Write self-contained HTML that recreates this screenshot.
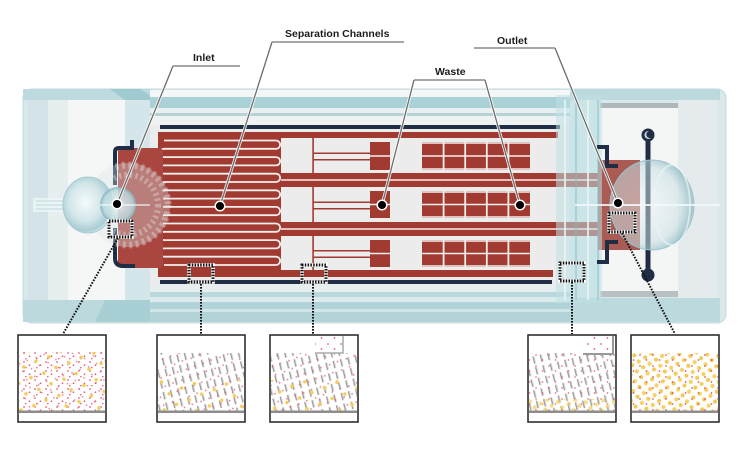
<!DOCTYPE html>
<html><head><meta charset="utf-8">
<style>
html,body{margin:0;padding:0;background:#fff;}
svg{display:block}
.lb{font-family:"Liberation Sans",Arial,sans-serif;font-weight:bold;font-size:10.5px;fill:#1c1c1c}
</style></head><body>
<svg width="750" height="451" viewBox="0 0 750 451" xmlns="http://www.w3.org/2000/svg">
<defs>
 <radialGradient id="sphL" cx="0.45" cy="0.45" r="0.6">
  <stop offset="0" stop-color="#f4fafb"/><stop offset="0.55" stop-color="#d3e6ea"/><stop offset="0.85" stop-color="#a9cdd3"/><stop offset="1" stop-color="#e8f3f4"/>
 </radialGradient>
 <radialGradient id="sphR" cx="0.42" cy="0.5" r="0.6">
  <stop offset="0" stop-color="#eef6f7" stop-opacity="0.45"/><stop offset="0.7" stop-color="#c7dfe3" stop-opacity="0.55"/><stop offset="0.93" stop-color="#8fbcc4" stop-opacity="0.8"/><stop offset="1" stop-color="#e5f1f2" stop-opacity="0.9"/>
 </radialGradient>
 <radialGradient id="sphS" cx="0.5" cy="0.5" r="0.5">
  <stop offset="0" stop-color="#e9f4f6" stop-opacity="0.85"/><stop offset="0.8" stop-color="#bcdadf" stop-opacity="0.8"/><stop offset="1" stop-color="#7fb2ba" stop-opacity="0.9"/>
 </radialGradient>
 <pattern id="rA" width="11" height="9" patternUnits="userSpaceOnUse"><circle cx="2" cy="2" r="0.85" fill="#e5506a"/><circle cx="7.5" cy="5.2" r="0.85" fill="#e5506a"/><circle cx="3.8" cy="7.6" r="0.75" fill="#e5506a"/></pattern>
 <pattern id="rS" width="13" height="11" patternUnits="userSpaceOnUse"><circle cx="3" cy="3" r="0.85" fill="#e5506a"/><circle cx="9.5" cy="8" r="0.85" fill="#e5506a"/></pattern>
 <pattern id="rB" width="13" height="12" patternUnits="userSpaceOnUse" patternTransform="rotate(23)"><circle cx="4" cy="3" r="0.85" fill="#e5506a"/><circle cx="10" cy="9" r="0.85" fill="#e5506a"/></pattern>
 <pattern id="yA" width="21" height="17" patternUnits="userSpaceOnUse" patternTransform="rotate(17)"><circle cx="4" cy="4" r="1.8" fill="#f3cf5a"/><circle cx="14" cy="12" r="1.8" fill="#f3cf5a"/></pattern>
 <pattern id="yB" width="11" height="10" patternUnits="userSpaceOnUse" patternTransform="rotate(11)"><circle cx="3" cy="3" r="2.1" fill="#f5d262"/><circle cx="8.5" cy="7.8" r="2.1" fill="#f2ca55"/></pattern>
 <pattern id="pil" width="7.5" height="11" patternUnits="userSpaceOnUse" patternTransform="rotate(-14)"><rect x="2.8" y="1.8" width="1.1" height="7.5" fill="#8a8a8a"/><rect x="3.9" y="1.8" width="0.9" height="7.5" fill="#d6d6d6"/></pattern>
</defs>

<!-- body -->
<rect x="23" y="89" width="703" height="234" rx="9" fill="#d8e8eb" stroke="#c5d9dc"/>

<!-- left cap -->
<rect x="23" y="89" width="130" height="11" fill="#bddbdf"/>
<polygon points="110,89 140,89 158,100 125,100" fill="#9fcad0"/>
<rect x="28" y="100" width="20" height="200" fill="#d3e3e7"/>
<rect x="48" y="100" width="20" height="200" fill="#e6eef0"/>
<rect x="68" y="100" width="57" height="200" fill="#f5f6f6"/>
<rect x="125" y="100" width="28" height="200" fill="#d4e6e9"/>
<rect x="23" y="300" width="130" height="22" fill="#bcd9dd"/>
<polygon points="105,300 150,300 160,322 95,322" fill="#a7cfd4"/>

<!-- main body strips -->
<rect x="150" y="90" width="420" height="7" fill="#f3f7f8"/>
<rect x="150" y="97" width="420" height="11" fill="#a9d1d6"/>
<rect x="150" y="108" width="420" height="5" fill="#e6f0f1"/>
<rect x="150" y="113" width="420" height="3" fill="#b7d1d5"/>
<rect x="150" y="116" width="420" height="9" fill="#eef2f3"/>
<rect x="150" y="125" width="420" height="160" fill="#ececec"/>
<rect x="150" y="285" width="420" height="7" fill="#e7eef0"/>
<rect x="150" y="292" width="420" height="5" fill="#b9d8dc"/>
<rect x="150" y="297" width="420" height="5" fill="#dcecee"/>
<rect x="150" y="302" width="420" height="20" fill="#b2d4d9"/>
<rect x="150" y="309" width="420" height="3" fill="#cfe5e8"/>

<!-- right cap -->
<rect x="570" y="89" width="150" height="11" fill="#bcdadd"/>
<rect x="600" y="103" width="78" height="5" fill="#aeb8bb"/>
<rect x="600" y="108" width="78" height="183" fill="#f4f5f5"/>
<rect x="678" y="100" width="40" height="198" fill="#e5eaec"/>
<rect x="600" y="291" width="78" height="6" fill="#b8c0c2"/>
<rect x="570" y="298" width="150" height="24" fill="#bcd9dd"/>

<!-- navy chip border -->
<rect x="160" y="125" width="400" height="4" fill="#1f2d45"/>
<rect x="160" y="280" width="392" height="4" fill="#1f2d45"/>

<!-- red bands -->
<g fill="#a13a31">
 <rect x="158" y="132" width="400" height="6"/>
 <rect x="158" y="173" width="440" height="14"/>
 <rect x="158" y="222" width="440" height="14"/>
 <rect x="158" y="270" width="395" height="7"/>
 <rect x="158" y="132" width="123" height="145" rx="5"/>
</g>
<path d="M164 140.5H276A4.15 4.15 0 0 1 276 148.8H164A4.15 4.15 0 0 0 164 157.1H276A4.15 4.15 0 0 1 276 165.4H164A4.15 4.15 0 0 0 164 173.7H276A4.15 4.15 0 0 1 276 182H164A4.15 4.15 0 0 0 164 190.3H276A4.15 4.15 0 0 1 276 198.6H164A4.15 4.15 0 0 0 164 206.9H276A4.15 4.15 0 0 1 276 215.2H164A4.15 4.15 0 0 0 164 223.5H276A4.15 4.15 0 0 1 276 231.8H164A4.15 4.15 0 0 0 164 240.1H276A4.15 4.15 0 0 1 276 248.4H164A4.15 4.15 0 0 0 164 256.7H276A4.15 4.15 0 0 1 276 265H164" fill="none" stroke="#f4eeec" stroke-width="1.8"/>
<g stroke="#f4eeec" stroke-width="1.6">
 <line x1="281" y1="180" x2="598" y2="180"/>
 <line x1="281" y1="229" x2="598" y2="229"/>
</g>

<!-- groups -->
<g>
 <g fill="#a13a31">
  <rect x="312.3" y="138" width="1.6" height="35"/>
  <rect x="313" y="152.5" width="57" height="1.5"/>
  <rect x="313" y="159" width="57" height="1.5"/>
  <rect x="370" y="142" width="20" height="28"/>
  <rect x="422" y="142" width="108" height="28"/>
  <rect x="312.3" y="187" width="1.6" height="35"/>
  <rect x="313" y="201.5" width="57" height="1.5"/>
  <rect x="313" y="208" width="57" height="1.5"/>
  <rect x="370" y="191" width="20" height="27"/>
  <rect x="422" y="191" width="108" height="27"/>
  <rect x="312.3" y="236" width="1.6" height="34"/>
  <rect x="313" y="250" width="57" height="1.5"/>
  <rect x="313" y="256.5" width="57" height="1.5"/>
  <rect x="370" y="240" width="20" height="27"/>
  <rect x="422" y="240" width="108" height="27"/>
 </g>
 <g stroke="#f4eeec" stroke-width="1.5">
  <line x1="370" y1="156" x2="390" y2="156"/>
  <line x1="370" y1="204.5" x2="390" y2="204.5"/>
  <line x1="370" y1="253.5" x2="390" y2="253.5"/>
  <line x1="422" y1="143" x2="530" y2="143"/><line x1="422" y1="156" x2="530" y2="156"/><line x1="422" y1="169" x2="530" y2="169"/>
  <line x1="422" y1="192" x2="530" y2="192"/><line x1="422" y1="204.5" x2="530" y2="204.5"/><line x1="422" y1="217" x2="530" y2="217"/>
  <line x1="422" y1="241" x2="530" y2="241"/><line x1="422" y1="253.5" x2="530" y2="253.5"/><line x1="422" y1="266" x2="530" y2="266"/>
 </g>
 <g stroke="#f4eeec" stroke-width="1.8">
  <line x1="443.6" y1="142" x2="443.6" y2="170"/><line x1="465.2" y1="142" x2="465.2" y2="170"/><line x1="486.8" y1="142" x2="486.8" y2="170"/><line x1="508.4" y1="142" x2="508.4" y2="170"/>
  <line x1="443.6" y1="191" x2="443.6" y2="218"/><line x1="465.2" y1="191" x2="465.2" y2="218"/><line x1="486.8" y1="191" x2="486.8" y2="218"/><line x1="508.4" y1="191" x2="508.4" y2="218"/>
  <line x1="443.6" y1="240" x2="443.6" y2="267"/><line x1="465.2" y1="240" x2="465.2" y2="267"/><line x1="486.8" y1="240" x2="486.8" y2="267"/><line x1="508.4" y1="240" x2="508.4" y2="267"/>
 </g>
</g>

<!-- right glass transition -->
<rect x="598" y="160" width="42" height="90" fill="#9b3f37" opacity="0.85"/>
<rect x="556" y="95" width="46" height="208" fill="#bfe0e3" opacity="0.55"/>
<g stroke="#e8f6f7" stroke-width="2" opacity="0.8">
 <line x1="565" y1="100" x2="565" y2="300"/><line x1="588" y1="100" x2="588" y2="300"/>
</g>
<g stroke="#7fb8c0" stroke-width="1.2" opacity="0.7">
 <line x1="576" y1="100" x2="576" y2="300"/><line x1="598" y1="100" x2="598" y2="300"/>
</g>
<path d="M597 147H607V166H618 M618 242H607V262H597" fill="none" stroke="#1f2d45" stroke-width="4"/>
<line x1="648" y1="135" x2="648" y2="275" stroke="#1f2d45" stroke-width="5"/>
<circle cx="648" cy="135" r="6.5" fill="#1f2d45"/>
<circle cx="648" cy="275" r="6.5" fill="#1f2d45"/>
<path d="M649 131a4 4 0 1 0 2 7a3 3 0 1 1 -2 -7z" fill="#c8d6dc"/>
<ellipse cx="652" cy="205" rx="42" ry="45" fill="url(#sphR)" stroke="#9cc4ca" stroke-width="1"/>
<ellipse cx="672" cy="205" rx="18" ry="40" fill="none" stroke="#e9f4f5" stroke-width="2" opacity="0.7"/>
<line x1="575" y1="205" x2="720" y2="205" stroke="#f2fafb" stroke-width="2" opacity="0.85"/>

<!-- left inlet -->
<rect x="118" y="148" width="45" height="120" rx="4" fill="#a8463f"/>
<path d="M132 140V148H119Q115 148 115 152V185 M115 228V258Q115 266 123 266H135" fill="none" stroke="#1f2d45" stroke-width="4"/>
<circle cx="128" cy="205" r="42" fill="#d9e6e8" opacity="0.35"/>
<circle cx="128" cy="205" r="40" fill="none" stroke="#eef2f2" stroke-width="7" stroke-dasharray="3 3.5" opacity="0.35"/>
<circle cx="128" cy="205" r="30" fill="none" stroke="#eef2f2" stroke-width="6" stroke-dasharray="2.5 3" opacity="0.35"/>
<rect x="33" y="198" width="40" height="14" fill="#eef6f7" opacity="0.8"/>
<g stroke="#bcd7dc" stroke-width="1"><line x1="36" y1="201" x2="70" y2="201"/><line x1="36" y1="205" x2="70" y2="205"/><line x1="36" y1="209" x2="70" y2="209"/></g>
<ellipse cx="88" cy="205" rx="25" ry="28" fill="url(#sphL)" stroke="#a8cbd1" stroke-width="1"/>
<circle cx="118" cy="205" r="18" fill="url(#sphS)"/>
<line x1="100" y1="205" x2="150" y2="205" stroke="#f4fafb" stroke-width="1.5" opacity="0.8"/>

<!-- small dotted boxes -->
<g fill="none">
 <g stroke="#ffffff" stroke-width="3.6">
  <rect x="109" y="221" width="23" height="16"/>
  <rect x="189" y="265" width="24" height="17"/>
  <rect x="302" y="265" width="24" height="17"/>
  <rect x="560" y="263" width="24" height="18"/>
  <rect x="609" y="213" width="26" height="19"/>
 </g>
 <g stroke="#111" stroke-width="3" stroke-dasharray="1.5 1.3">
  <rect x="109" y="221" width="23" height="16"/>
  <rect x="189" y="265" width="24" height="17"/>
  <rect x="302" y="265" width="24" height="17"/>
  <rect x="560" y="263" width="24" height="18"/>
  <rect x="609" y="213" width="26" height="19"/>
 </g>
 <g stroke="#111" stroke-width="2" stroke-dasharray="1.6 1.4">
  <line x1="118" y1="238" x2="63" y2="334"/>
  <line x1="201" y1="284" x2="201" y2="334"/>
  <line x1="313" y1="284" x2="313" y2="334"/>
  <line x1="572" y1="282" x2="572" y2="334"/>
  <line x1="622" y1="233" x2="675" y2="334"/>
 </g>
</g>

<!-- leaders -->
<g stroke="#ffffff" stroke-width="3" fill="none" opacity="0.9">
 <line x1="173" y1="66" x2="117" y2="204"/>
 <line x1="272" y1="42" x2="220" y2="206"/>
 <line x1="414" y1="80" x2="382" y2="205"/>
 <line x1="485" y1="80" x2="520" y2="205"/>
 <line x1="555" y1="48" x2="618" y2="203"/>
</g>
<g stroke="#6b6b6b" stroke-width="1.3" fill="none">
 <line x1="173" y1="66" x2="117" y2="204"/>
 <line x1="272" y1="42" x2="220" y2="206"/>
 <line x1="414" y1="80" x2="382" y2="205"/>
 <line x1="485" y1="80" x2="520" y2="205"/>
 <line x1="555" y1="48" x2="618" y2="203"/>
</g>
<g stroke="#8a8a8a" stroke-width="1.5">
 <line x1="173" y1="66" x2="240" y2="66"/>
 <line x1="272" y1="42" x2="404" y2="42"/>
 <line x1="414" y1="80" x2="485" y2="80"/>
 <line x1="474" y1="48" x2="555" y2="48"/>
</g>
<g fill="#000" stroke="#fff" stroke-width="1.5">
 <circle cx="117" cy="204" r="4.8"/>
 <circle cx="220" cy="206" r="4.8"/>
 <circle cx="382" cy="205" r="4.8"/>
 <circle cx="520" cy="205" r="4.8"/>
 <circle cx="618" cy="203" r="4.8"/>
</g>

<!-- labels -->
<text class="lb" x="193" y="61">Inlet</text>
<text class="lb" x="285" y="37">Separation Channels</text>
<text class="lb" x="435" y="75">Waste</text>
<text class="lb" x="497" y="44">Outlet</text>

<!-- bottom boxes -->
<rect x="19" y="352" width="86" height="59" fill="url(#rA)"/>
<rect x="19" y="352" width="86" height="59" fill="url(#rB)" opacity="0.7"/>
<rect x="19" y="352" width="86" height="59" fill="url(#yA)"/>

<rect x="158" y="353" width="86" height="58" fill="url(#pil)"/>
<rect x="158" y="353" width="86" height="58" fill="url(#rB)" opacity="0.8"/>
<rect x="158" y="380" width="86" height="31" fill="url(#yA)"/>

<rect x="271" y="353" width="86" height="58" fill="url(#pil)"/>
<rect x="271" y="353" width="86" height="58" fill="url(#rB)" opacity="0.8"/>
<rect x="271" y="380" width="86" height="31" fill="url(#yA)"/>
<rect x="315" y="336" width="28" height="16" fill="#fff"/>
<rect x="315" y="336" width="28" height="16" fill="url(#rS)"/>
<path d="M343 336V353H315" fill="none" stroke="#aaa" stroke-width="1.5"/>

<rect x="529" y="353" width="86" height="58" fill="url(#pil)"/>
<rect x="529" y="353" width="86" height="58" fill="url(#rS)" opacity="0.8"/>
<rect x="529" y="399" width="86" height="12" fill="url(#yB)" opacity="0.7"/>
<rect x="583" y="336" width="30" height="17" fill="#fff"/>
<rect x="583" y="336" width="30" height="17" fill="url(#rS)"/>
<path d="M613 336V354H583" fill="none" stroke="#999" stroke-width="2"/>

<rect x="632" y="353" width="86" height="58" fill="url(#yB)"/>
<rect x="632" y="353" width="86" height="58" fill="url(#rS)"/>

<g fill="#8d8d8d">
 <rect x="19" y="410.5" width="86" height="2.5"/>
 <rect x="158" y="410.5" width="86" height="2.5"/>
 <rect x="271" y="410.5" width="86" height="2.5"/>
 <rect x="529" y="410.5" width="86" height="2.5"/>
 <rect x="632" y="410.5" width="86" height="2.5"/>
</g>
<g fill="none" stroke="#2f2f2f" stroke-width="1.6">
 <rect x="18" y="335" width="88" height="87"/>
 <rect x="157" y="335" width="88" height="87"/>
 <rect x="270" y="335" width="88" height="87"/>
 <rect x="528" y="335" width="88" height="87"/>
 <rect x="631" y="335" width="88" height="87"/>
</g>
</svg>
</body></html>
